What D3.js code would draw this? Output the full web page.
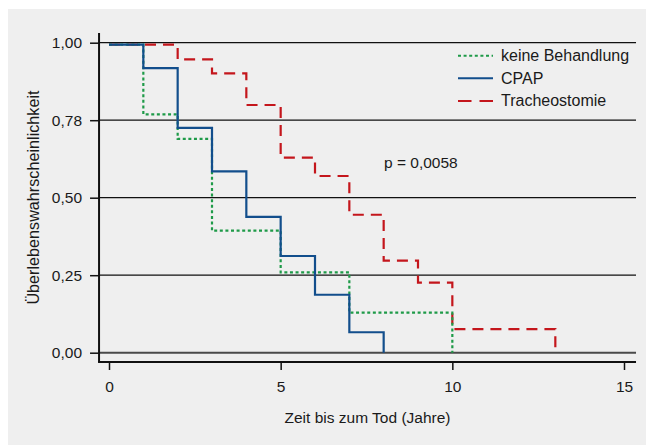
<!DOCTYPE html>
<html>
<head>
<meta charset="utf-8">
<script src="https://cdn.jsdelivr.net/npm/d3@7"></script>
<style>
  body { margin: 0; background: #fff; }
  svg text { font-family: "Liberation Sans", Arial, sans-serif; fill: #1a1a1a; }
</style>
</head>
<body>
<svg id="kmChart" width="646" height="445"></svg>
<script>
// Kaplan-Meier step data (Jahre, Überlebenswahrscheinlichkeit)
const timesNone = [0, 1, 2, 3, 5, 7, 10];
const survNone = [0.994, 0.769, 0.69, 0.394, 0.259, 0.129, 0];

const timesCpap = [0, 1, 2, 3, 4, 5, 6, 7, 8];
const survCpap = [0.994, 0.918, 0.725, 0.585, 0.438, 0.312, 0.187, 0.066, 0];

const timesTrach = [0, 2, 3, 4, 5, 6, 7, 8, 9, 10, 13];
const survTrach = [0.994, 0.946, 0.901, 0.799, 0.629, 0.57, 0.445, 0.297, 0.226, 0.076, 0];

const seriesNames = ["keine Behandlung", "CPAP", "Tracheostomie"];
const xTicks = [0, 5, 10, 15];
const yTicks = [0, 0.25, 0.5, 0.75, 1];
const yTickLabels = ["0,00", "0,25", "0,50", "0,78", "1,00"];
const pText = "p = 0,0058";

const svg = d3.select("#kmChart");
const width = 646, height = 445;

svg.append("rect")
    .attr("x", 8).attr("y", 9)
    .attr("width", width - 8).attr("height", height - 9)
    .attr("fill", "#efefef");

const mapX = d3.scaleLinear().domain([0, 15]).range([109, 624]);
const mapY = d3.scaleLinear().domain([0, 1]).range([352.7, 42.7]);

// axis lines are offset from the data origin
const axisLeftX = mapX(-0.29);
const axisBottomY = mapY(-0.03);
const axisRightX = mapX(15.35);
const axisTopY = mapY(1.031);

const font = 15.5;

// grid lines
svg.append("g")
    .selectAll("line")
    .data(yTicks)
    .enter()
    .append("line")
    .attr("x1", axisLeftX)
    .attr("x2", axisRightX)
    .attr("y1", (d) => mapY(d))
    .attr("y2", (d) => mapY(d))
    .attr("stroke", (d) => (d === 0 ? "#4a4a4a" : "#111"))
    .attr("stroke-width", (d) => (d === 0 ? 2 : 1.3));

// y axis
const yAxis = d3.axisLeft(mapY)
    .tickValues(yTicks)
    .tickFormat((d, i) => yTickLabels[i])
    .tickSize(9)
    .tickPadding(8);
const gy = svg.append("g")
    .attr("transform", `translate(${axisLeftX},0)`)
    .call(yAxis);
gy.select(".domain").remove();
gy.append("line")
    .attr("x1", 0).attr("x2", 0)
    .attr("y1", axisTopY).attr("y2", axisBottomY)
    .attr("stroke", "#111").attr("stroke-width", 2);

// x axis
const xAxis = d3.axisBottom(mapX)
    .tickValues(xTicks)
    .tickFormat(d3.format("d"))
    .tickSize(8)
    .tickPadding(11);
const gx = svg.append("g")
    .attr("transform", `translate(0,${axisBottomY})`)
    .call(xAxis);
gx.select(".domain").remove();
gx.append("line")
    .attr("x1", axisLeftX - 1).attr("x2", axisRightX)
    .attr("y1", 0).attr("y2", 0)
    .attr("stroke", "#111").attr("stroke-width", 2);

svg.selectAll(".tick line").attr("stroke", "#111").attr("stroke-width", 1.5);
svg.selectAll(".tick text")
    .style("font-size", `${font}px`)
    .style("font-family", '"Liberation Sans", Arial, sans-serif')
    .attr("fill", "#1a1a1a");

// axis titles
svg.append("text")
    .attr("x", (axisLeftX + axisRightX) / 2)
    .attr("y", 423)
    .style("text-anchor", "middle")
    .style("font-size", `${font}px`)
    .text("Zeit bis zum Tod (Jahre)");

svg.append("text")
    .attr("transform", `translate(39, ${(axisTopY + axisBottomY) / 2}) rotate(-90)`)
    .style("text-anchor", "middle")
    .style("font-size", "16.2px")
    .text("Überlebenswahrscheinlichkeit");

// curves
const series = [
    { name: seriesNames[2], t: timesTrach, s: survTrach, color: "#c4161c", dash: "11,7" },
    { name: seriesNames[0], t: timesNone, s: survNone, color: "#1e9a48", dash: "3,2.6" },
    { name: seriesNames[1], t: timesCpap, s: survCpap, color: "#124e8c", dash: null },
];

const line = d3.line()
    .curve(d3.curveStepAfter)
    .x((d) => mapX(d[0]))
    .y((d) => mapY(d[1]));

svg.append("g")
    .selectAll("path")
    .data(series)
    .enter()
    .append("path")
    .attr("d", (d) => line(d.t.map((t, i) => [t, d.s[i]])))
    .attr("fill", "none")
    .attr("stroke", (d) => d.color)
    .attr("stroke-width", 2.2)
    .attr("stroke-dasharray", (d) => d.dash);

// legend
const legendOrder = [series[1], series[2], series[0]];
const legend = svg.append("g").attr("transform", "translate(458,55.7)");
const rows = legend.selectAll("g")
    .data(legendOrder)
    .enter()
    .append("g")
    .attr("transform", (d, i) => `translate(0,${i * 22.6})`);
rows.append("line")
    .attr("x1", 0).attr("x2", 35)
    .attr("stroke", (d) => d.color)
    .attr("stroke-width", 2)
    .attr("stroke-dasharray", (d) => (d.dash === "11,7" ? "13.5,8" : d.dash));
rows.append("text")
    .attr("x", 43)
    .attr("y", 5.5)
    .style("font-size", "16px")
    .text((d) => d.name);

svg.append("text")
    .attr("x", 384)
    .attr("y", 168)
    .style("font-size", `${font}px`)
    .text(pText);
</script>
</body>
</html>
